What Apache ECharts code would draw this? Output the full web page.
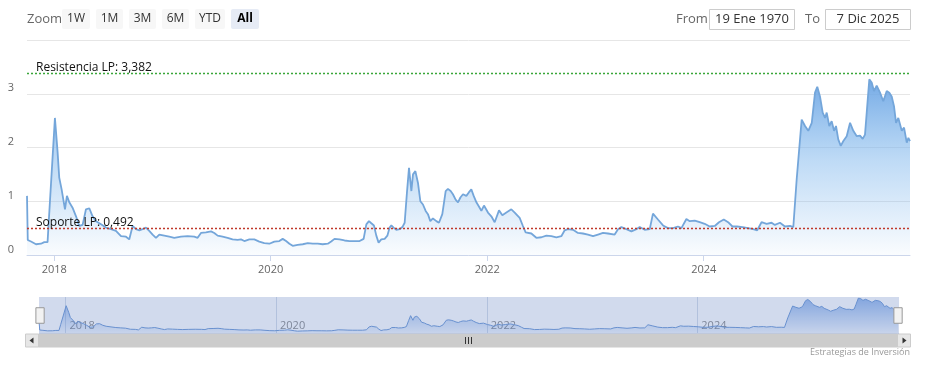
<!DOCTYPE html>
<html><head><meta charset="utf-8">
<script src="https://cdn.jsdelivr.net/npm/echarts@6/dist/echarts.min.js"></script>
<style>html,body{margin:0;padding:0;background:#fff}#c{width:925px;height:368px}</style>
</head><body><div id="c"></div>
<script>
// [decimal year, value]
const observations = [
[2017.748,1.10],[2017.755,0.28],[2017.785,0.25],[2017.831,0.20],[2017.877,0.21],[2017.908,0.24],[2017.938,0.24],[2017.954,0.79],
[2018.006,2.55],[2018.031,1.91],[2018.046,1.44],[2018.068,1.22],[2018.099,0.85],[2018.117,1.10],[2018.139,0.98],[2018.169,0.88],
[2018.201,0.72],[2018.231,0.54],[2018.262,0.56],[2018.293,0.85],[2018.324,0.87],[2018.354,0.72],[2018.386,0.63],[2018.432,0.57],
[2018.478,0.51],[2018.524,0.48],[2018.570,0.45],[2018.617,0.35],[2018.663,0.34],[2018.693,0.29],[2018.724,0.54],[2018.755,0.48],
[2018.786,0.46],[2018.816,0.48],[2018.848,0.51],[2018.878,0.45],[2018.909,0.38],[2018.940,0.32],[2018.971,0.38],
[2019.017,0.36],[2019.063,0.34],[2019.109,0.32],[2019.171,0.34],[2019.232,0.35],[2019.294,0.34],[2019.325,0.32],[2019.356,0.41],
[2019.402,0.42],[2019.449,0.44],[2019.479,0.41],[2019.510,0.36],[2019.556,0.34],[2019.602,0.32],[2019.648,0.29],[2019.695,0.28],
[2019.726,0.29],[2019.757,0.26],[2019.803,0.29],[2019.849,0.29],[2019.895,0.25],[2019.941,0.22],[2019.988,0.21],
[2020.034,0.25],[2020.080,0.26],[2020.111,0.30],[2020.142,0.26],[2020.173,0.21],[2020.203,0.17],[2020.249,0.19],[2020.296,0.20],
[2020.342,0.22],[2020.388,0.21],[2020.434,0.21],[2020.480,0.20],[2020.527,0.21],[2020.558,0.25],[2020.589,0.30],[2020.635,0.29],
[2020.681,0.27],[2020.727,0.26],[2020.774,0.26],[2020.820,0.26],[2020.857,0.30],[2020.882,0.57],[2020.906,0.63],[2020.928,0.59],
[2020.952,0.55],[2020.974,0.36],[2020.995,0.23],
[2021.020,0.29],[2021.051,0.30],[2021.076,0.36],[2021.097,0.51],[2021.113,0.55],[2021.134,0.51],[2021.159,0.47],[2021.190,0.48],
[2021.215,0.52],[2021.236,0.60],[2021.257,1.16],[2021.276,1.62],[2021.298,1.19],[2021.313,1.50],[2021.335,1.56],[2021.359,1.34],
[2021.381,1.00],[2021.405,0.94],[2021.430,0.82],[2021.451,0.76],[2021.473,0.63],[2021.497,0.68],[2021.529,0.63],[2021.553,0.60],
[2021.584,0.76],[2021.615,1.19],[2021.636,1.23],[2021.661,1.19],[2021.682,1.13],[2021.707,1.03],[2021.729,0.98],[2021.751,1.07],
[2021.775,1.13],[2021.806,1.10],[2021.827,1.16],[2021.852,1.22],[2021.874,1.10],[2021.899,0.98],[2021.929,0.88],[2021.945,0.82],
[2021.969,0.92],
[2022.006,0.79],[2022.037,0.72],[2022.068,0.61],[2022.108,0.83],[2022.139,0.74],[2022.176,0.79],[2022.222,0.85],[2022.253,0.79],
[2022.299,0.69],[2022.329,0.54],[2022.354,0.42],[2022.407,0.40],[2022.453,0.32],[2022.500,0.33],[2022.546,0.36],[2022.592,0.35],
[2022.638,0.33],[2022.684,0.35],[2022.715,0.46],[2022.745,0.48],[2022.792,0.47],[2022.838,0.41],[2022.884,0.40],[2022.930,0.38],
[2022.977,0.35],
[2023.023,0.38],[2023.069,0.41],[2023.115,0.40],[2023.177,0.38],[2023.208,0.48],[2023.239,0.52],[2023.285,0.48],[2023.332,0.44],
[2023.378,0.48],[2023.408,0.52],[2023.455,0.47],[2023.501,0.48],[2023.531,0.77],[2023.577,0.66],[2023.624,0.55],[2023.670,0.50],
[2023.716,0.50],[2023.762,0.53],[2023.794,0.50],[2023.840,0.67],[2023.871,0.63],[2023.917,0.64],[2023.963,0.61],
[2024.009,0.58],[2024.055,0.53],[2024.102,0.54],[2024.141,0.61],[2024.185,0.66],[2024.225,0.61],[2024.265,0.53],[2024.308,0.53],
[2024.358,0.52],[2024.410,0.50],[2024.456,0.48],[2024.493,0.46],[2024.533,0.61],[2024.580,0.58],[2024.626,0.60],[2024.656,0.56],
[2024.703,0.60],[2024.749,0.53],[2024.795,0.54],[2024.826,0.52],[2024.857,1.41],[2024.903,2.52],[2024.934,2.40],[2024.964,2.31],
[2024.996,2.46],
[2025.026,3.02],[2025.047,3.13],[2025.072,2.95],[2025.097,2.65],[2025.119,2.55],[2025.134,2.65],[2025.158,2.40],[2025.180,2.49],
[2025.202,2.31],[2025.220,2.40],[2025.241,2.15],[2025.264,2.03],[2025.288,2.12],[2025.319,2.21],[2025.350,2.46],[2025.380,2.31],
[2025.412,2.21],[2025.442,2.22],[2025.467,2.16],[2025.488,2.24],[2025.504,2.65],[2025.528,3.27],[2025.550,3.21],[2025.571,3.05],
[2025.596,3.15],[2025.627,3.02],[2025.657,2.86],[2025.689,3.05],[2025.713,3.02],[2025.735,2.95],[2025.756,2.77],[2025.775,2.46],
[2025.796,2.55],[2025.828,2.31],[2025.849,2.37],[2025.874,2.09],[2025.889,2.18],[2025.904,2.12]
];
const supportLevel = 0.492;
const resistanceLevel = 3.382;
const supportName = 'Soporte LP';
const resistanceName = 'Resistencia LP';
const yTickValues = [0, 1, 2, 3, 4];
const xLabelYears = [2018, 2020, 2022, 2024];
const rangeButtons = ['1W', '1M', '3M', '6M', 'YTD', 'All'];
const fromText = '19 Ene 1970';
const toText = '7 Dic 2025';
const creditText = 'Estrategias de Inversión';

const FONT = '"Open Sans", "Noto Sans", Arial, sans-serif';
function yearToTs(y) {
  const f = Math.floor(y);
  const a = Date.UTC(f, 0, 1), b = Date.UTC(f + 1, 0, 1);
  return a + (y - f) * (b - a);
}
const data = observations.map(p => [yearToTs(p[0]), p[1]]);
const tickTs = xLabelYears.map(y => Date.UTC(y, 0, 1));
const fmtNum = v => v.toFixed(3).replace('.', ',');
const yearFmt = v => String(new Date(v).getUTCFullYear());

// range selector graphics
const btnW = [28, 27, 27, 27, 30, 28];
const graphics = [];
graphics.push({type:'text', x: 27, y: 19, style:{text:'Zoom', fill:'#666', font:'13px ' + FONT, verticalAlign:'middle'}});
let bx = 62;
rangeButtons.forEach((b, i) => {
  const sel = b === 'All';
  graphics.push({type:'rect', shape:{x:bx, y:9, width:btnW[i], height:20, r:2}, style:{fill: sel ? '#e6ebf5' : '#f7f7f7'}});
  graphics.push({type:'text', x: bx + btnW[i] / 2, y: 19, style:{text:b, fill: sel ? '#000' : '#333', font:(sel ? 'bold ' : '') + '12px ' + FONT, align:'center', verticalAlign:'middle'}});
  bx += btnW[i] + 6;
});
graphics.push({type:'text', x: 676, y: 19, style:{text:'From', fill:'#666', font:'13px ' + FONT, verticalAlign:'middle'}});
graphics.push({type:'rect', shape:{x:709.5, y:9.5, width:85, height:20}, style:{fill:'#fff', stroke:'#cccccc', lineWidth:1}});
graphics.push({type:'text', x: 752, y: 19.5, style:{text:fromText, fill:'#333', font:'13px ' + FONT, align:'center', verticalAlign:'middle'}});
graphics.push({type:'text', x: 805, y: 19, style:{text:'To', fill:'#666', font:'13px ' + FONT, verticalAlign:'middle'}});
graphics.push({type:'rect', shape:{x:825.5, y:9.5, width:85, height:20}, style:{fill:'#fff', stroke:'#cccccc', lineWidth:1}});
graphics.push({type:'text', x: 868, y: 19.5, style:{text:toText, fill:'#333', font:'13px ' + FONT, align:'center', verticalAlign:'middle'}});
// scrollbar
graphics.push({type:'rect', shape:{x:25.5, y:334, width:13, height:13}, style:{fill:'#e6e6e6', stroke:'#cccccc', lineWidth:1}});
graphics.push({type:'polygon', shape:{points:[[29.5,340.5],[33.5,337.5],[33.5,343.5]]}, style:{fill:'#333'}});
graphics.push({type:'rect', shape:{x:38.5, y:334, width:859, height:13}, style:{fill:'#cccccc', stroke:'#cccccc', lineWidth:1}});
[465.5, 468.5, 471.5].forEach(gx => graphics.push({type:'line', shape:{x1:gx, y1:337, x2:gx, y2:344}, style:{stroke:'#333', lineWidth:1}}));
graphics.push({type:'rect', shape:{x:897.5, y:334, width:13, height:13}, style:{fill:'#e6e6e6', stroke:'#cccccc', lineWidth:1}});
graphics.push({type:'polygon', shape:{points:[[906.5,340.5],[902.5,337.5],[902.5,343.5]]}, style:{fill:'#333'}});
graphics.push({type:'text', x: 910, y: 352, style:{text:creditText, fill:'#999', font:'9px ' + FONT, align:'right', verticalAlign:'middle'}});

const chart = echarts.init(document.getElementById('c'), null, {renderer:'canvas'});
chart.setOption({
  animation: false,
  backgroundColor: '#fff',
  textStyle: {fontFamily: FONT},
  grid: [
    {left: 27, right: 15, top: 40, height: 215},
    {left: 39, width: 859, top: 298, height: 35}
  ],
  xAxis: [
    {type:'value', gridIndex:0, min:'dataMin', max:'dataMax', scale:true,
     axisLine:{show:true, lineStyle:{color:'#ccd6eb'}},
     axisTick:{show:true, customValues: tickTs, length:6, lineStyle:{color:'#ccd6eb'}},
     axisLabel:{customValues: tickTs, formatter: yearFmt, color:'#666', fontSize:11, margin:9},
     splitLine:{show:false}},
    {type:'value', gridIndex:1, min:'dataMin', max:'dataMax', scale:true,
     axisLine:{show:false},
     axisTick:{show:true, inside:true, customValues: tickTs, length:36, lineStyle:{color:'#d3dbe8'}},
     axisLabel:{customValues: tickTs, formatter: yearFmt, inside:true, margin:2, align:'left', padding:[0,0,0,4], verticalAlign:'bottom', color:'#888', fontSize:11},
     splitLine:{show:false}}
  ],
  yAxis: [
    {type:'value', gridIndex:0, min:0, max:4, interval:1,
     axisLine:{show:false}, axisTick:{show:false},
     splitLine:{lineStyle:{color:'#e6e6e6'}},
     axisLabel:{formatter: v => (v === yTickValues[yTickValues.length - 1] ? '' : String(v)), color:'#666', fontSize:11, margin:16, align:'center', verticalAlign:'bottom'}},
    {type:'value', gridIndex:1, min:0, max:'dataMax', show:false, splitLine:{show:false}}
  ],
  dataZoom: [{
    type:'slider', xAxisIndex:0, start:0, end:100, left:38, width:860, top:297, height:37,
    showDataShadow:false, showDetail:false, brushSelect:false,
    backgroundColor:'rgba(0,0,0,0)', borderColor:'rgba(0,0,0,0)',
    fillerColor:'rgba(102,133,194,0.3)',
    dataBackground:{lineStyle:{opacity:0}, areaStyle:{opacity:0}},
    selectedDataBackground:{lineStyle:{opacity:0}, areaStyle:{opacity:0}},
    handleIcon:'path://M0,0H8V15H0Z',
    handleSize:'42%',
    handleStyle:{color:'#f2f2f2', borderColor:'#999999', borderWidth:1},
    moveHandleSize:0,
    moveHandleStyle:{opacity:0},
    emphasis:{handleStyle:{color:'#f2f2f2', borderColor:'#999999'}}
  }],
  graphic: graphics,
  series: [
    {type:'line', xAxisIndex:0, yAxisIndex:0, data: data, symbol:'none', showSymbol:false,
     lineStyle:{color:'#74a6da', width:1.8},
     areaStyle:{opacity:1, color:{type:'linear', x:0, y:80, x2:0, y2:255, global:true,
       colorStops:[{offset:0, color:'rgba(110,166,228,0.95)'},{offset:0.45, color:'rgba(124,181,236,0.5)'},{offset:1, color:'rgba(124,181,236,0.04)'}]}},
     markLine:{symbol:'none', silent:true, animation:false,
       data:[
         {yAxis: resistanceLevel, lineStyle:{color:'#3aa63a', type:[2,2], width:1.3},
          label:{formatter: resistanceName + ': ' + fmtNum(resistanceLevel), position:'insideStartTop', color:'#111', fontSize:12, distance:[9,0], fontFamily: FONT}},
         {yAxis: supportLevel, lineStyle:{color:'#c0392b', type:[2,2], width:1.3},
          label:{formatter: supportName + ': ' + fmtNum(supportLevel), position:'insideStartTop', color:'#111', fontSize:12, distance:[9,0], fontFamily: FONT}}
       ]}},
    {type:'line', xAxisIndex:1, yAxisIndex:1, data: data, symbol:'none', showSymbol:false,
     lineStyle:{color:'#6a96d4', width:1},
     areaStyle:{opacity:1, color:{type:'linear', x:0, y:0, x2:0, y2:1,
       colorStops:[{offset:0, color:'rgba(70,130,220,0.6)'},{offset:1, color:'rgba(70,130,220,0.08)'}]}}}
  ]
});
</script>
</body></html>
